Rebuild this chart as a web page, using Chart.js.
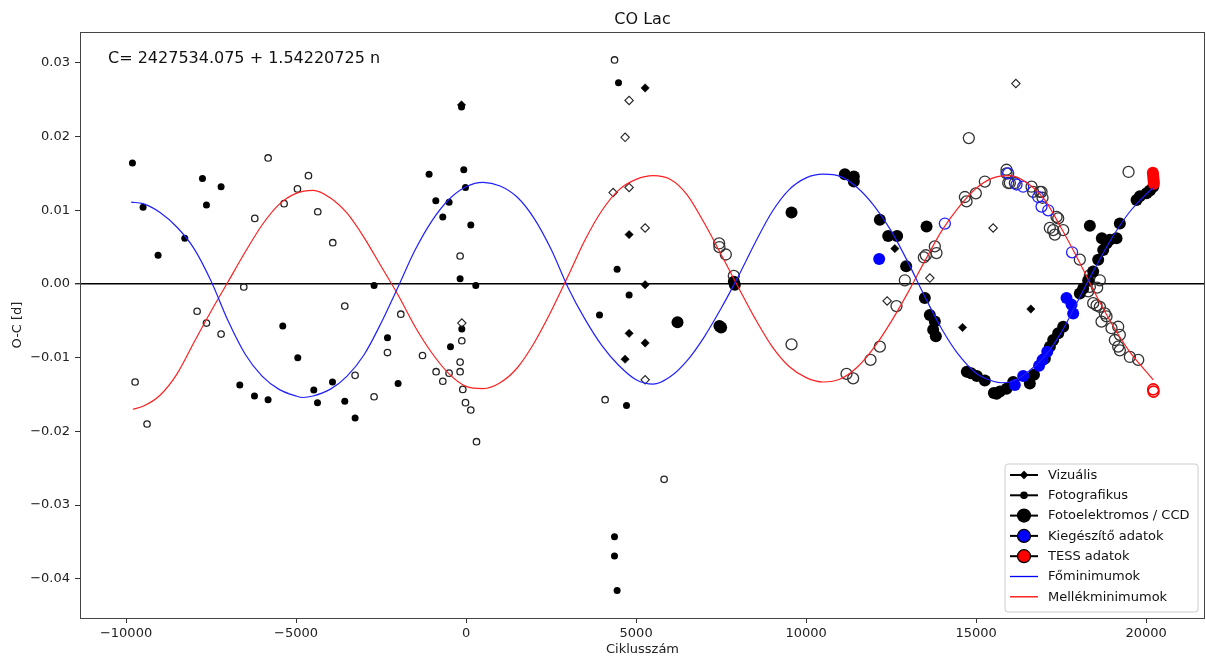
<!DOCTYPE html>
<html>
<head>
<meta charset="utf-8">
<title>CO Lac O-C</title>
<script src="https://cdn.jsdelivr.net/npm/chart.js@4.4.0/dist/chart.umd.min.js"></script>
<style>
  html, body { margin: 0; padding: 0; background: #fff; }
  canvas { display: block; }
</style>
</head>
<body>
<canvas id="oc" width="1206" height="659"></canvas>
<script>
// [ciklusszám, O-C (nap)] párok

// Vizuális – fő- és mellékminimumok
const vizualisFo = [
  [-135, 0.0243], [4676, -0.0102], [4794, 0.0067], [4794, -0.0067], [5265, 0.0266],
  [5265, -0.0001], [5265, -0.0080], [12608, 0.0048], [14599, -0.0059], [16608, -0.0034]
];
const vizualisMellek = [
  [-126, -0.0053], [4323, 0.0124], [4676, 0.0199], [4794, 0.0249], [4794, 0.0131],
  [5265, 0.0076], [5265, -0.0130], [12382, -0.0023], [13637, 0.0008], [15499, 0.0076],
  [16167, 0.0272]
];

// Fotografikus
const fotoFo = [
  [-9812, 0.0164], [-9499, 0.0104], [-9058, 0.0039], [-8273, 0.0062], [-7753, 0.0143],
  [-7635, 0.0107], [-7205, 0.0132], [-6655, -0.0137], [-6223, -0.0152], [-5823, -0.0157],
  [-5391, -0.0057], [-4950, -0.0100], [-4479, -0.0144], [-4370, -0.0161], [-3929, -0.0133],
  [-3568, -0.0159], [-3264, -0.0182], [-2706, -0.0002], [-2312, -0.0073], [-2000, -0.0135],
  [-1088, 0.0149], [-891, 0.0113], [-685, 0.0091], [-500, 0.0111], [-459, -0.0085],
  [-176, 0.0007], [-135, 0.0240], [-126, -0.0061], [-68, 0.0155], [-18, 0.0131],
  [138, 0.0080], [285, -0.0002], [3923, -0.0042], [4364, -0.0343], [4364, -0.0369],
  [4441, -0.0416], [4441, 0.0020], [4482, 0.0273], [4717, -0.0165], [4794, -0.0015]
];
const fotoMellek = [
  [-9734, -0.0133], [-9382, -0.0190], [-7910, -0.0037], [-7635, -0.0053], [-7205, -0.0068],
  [-6538, -0.0004], [-6214, 0.0089], [-5822, 0.0171], [-5352, 0.0109], [-4959, 0.0129],
  [-4636, 0.0147], [-4362, 0.0098], [-3921, 0.0056], [-3568, -0.0030], [-3264, -0.0124],
  [-2706, -0.0153], [-2312, -0.0093], [-1920, -0.0041], [-1282, -0.0097], [-882, -0.0119],
  [-685, -0.0132], [-500, -0.0121], [-176, 0.0038], [-126, -0.0077], [-176, -0.0106],
  [-176, -0.0119], [-97, -0.0143], [-18, -0.0161], [138, -0.0171], [306, -0.0214],
  [4088, -0.0157], [4365, 0.0304], [5823, -0.0265]
];

// Fotoelektromos / CCD
const ccdFo = [
  [6217, -0.0052], [7450, -0.0057], [7500, -0.0059], [7873, 0.0003], [7903, -0.0001],
  [9570, 0.0097], [11138, 0.0149], [11403, 0.0146], [11403, 0.0139], [12167, 0.0087],
  [12412, 0.0065], [12676, 0.0065], [12941, 0.0024], [13490, -0.0019], [13541, 0.0078],
  [13637, -0.0042], [13735, -0.0062], [13784, -0.0051], [13814, -0.0071], [14725, -0.0119],
  [14850, -0.0121], [15020, -0.0125], [15255, -0.0131], [15520, -0.0148], [15600, -0.0149],
  [15696, -0.0146], [15892, -0.0142], [16088, -0.0133], [16578, -0.0135], [16700, -0.0123],
  [17020, -0.0101], [17167, -0.0085], [17265, -0.0076], [17412, -0.0067], [17559, -0.0058],
  [18048, -0.0013], [18147, -0.0006], [18294, 0.0005], [18441, 0.0017], [18588, 0.0033],
  [18695, 0.0062], [18735, 0.0046], [18833, 0.0055], [18931, 0.0060], [19127, 0.0062],
  [18343, 0.0079], [19225, 0.0082], [19716, 0.0114], [19814, 0.0119], [20010, 0.0123],
  [20110, 0.0127], [20206, 0.0132]
];
const ccdMellek = [
  [7441, 0.0055], [7450, 0.0050], [7638, 0.0040], [7873, 0.0011], [9570, -0.0082],
  [11187, -0.0122], [11382, -0.0128], [11893, -0.0103], [12167, -0.0085], [12657, -0.0030],
  [12902, 0.0005], [13461, 0.0036], [13520, 0.0039], [13784, 0.0051], [13833, 0.0042],
  [14668, 0.0118], [14717, 0.0112], [14784, 0.0198], [14990, 0.0123], [15255, 0.0139],
  [15892, 0.0155], [15892, 0.0150], [15941, 0.0137], [15990, 0.0137], [16137, 0.0137],
  [16628, 0.0132], [16675, 0.0125], [16872, 0.0125], [16922, 0.0125], [16951, 0.0117],
  [17166, 0.0076], [17265, 0.0073], [17314, 0.0067], [17363, 0.0091], [17412, 0.0089],
  [17559, 0.0073], [18048, 0.0033], [18294, -0.0010], [18343, 0.0012], [18343, -0.0004],
  [18441, -0.0026], [18541, -0.0029], [18558, -0.0005], [18637, 0.0005], [18637, -0.0031],
  [18686, -0.0051], [18784, -0.0040], [18833, -0.0044], [18980, -0.0060], [19078, -0.0076],
  [19176, -0.0058], [19176, -0.0085], [19225, -0.0069], [19225, -0.0090], [19481, 0.0152],
  [19520, -0.0099], [19765, -0.0103]
];

// Kiegészítő adatok
const kiegFo = [
  [12147, 0.0034], [16137, -0.0137], [16382, -0.0125], [16850, -0.0111], [16950, -0.0103],
  [17090, -0.0092], [17657, -0.0019], [17804, -0.0028], [17853, -0.0040]
];
const kiegMellek = [
  [14079, 0.0082], [15941, 0.0150], [16187, 0.0135], [16382, 0.0132], [16823, 0.0118],
  [16922, 0.0105], [17118, 0.0100], [17820, 0.0043]
];

// TESS
const tessFo = [
  [20195, 0.0151], [20205, 0.0148], [20210, 0.0145], [20215, 0.0142], [20220, 0.0139],
  [20225, 0.0136]
];
const tessMellek = [[20206, -0.0143], [20215, -0.0146]];

// illesztett görbék
const foMinGorbe = [
  [-9850, 0.0111], [-9500, 0.0109], [-9000, 0.0097], [-8500, 0.0077], [-8000, 0.0048],
  [-7500, 0.0004], [-7000, -0.0050], [-6500, -0.0095], [-6000, -0.0125], [-5500, -0.0143],
  [-5000, -0.0152], [-4800, -0.0154], [-4500, -0.0152], [-4000, -0.0143], [-3500, -0.0125],
  [-3000, -0.0096], [-2500, -0.0053], [-2000, -0.0004], [-1500, 0.0046], [-1000, 0.0086],
  [-500, 0.0115], [0, 0.0132], [500, 0.0138], [1000, 0.0133], [1500, 0.0118],
  [2000, 0.0089], [2500, 0.0047], [3000, -0.0005], [3500, -0.0048], [4000, -0.0084],
  [4500, -0.0111], [5000, -0.0130], [5500, -0.0136], [6000, -0.0126], [6500, -0.0104],
  [7000, -0.0072], [7500, -0.0033], [8000, 0.0010], [8500, 0.0056], [9000, 0.0098],
  [9500, 0.0128], [10000, 0.0144], [10500, 0.0149], [11000, 0.0146], [11500, 0.0131],
  [12000, 0.0106], [12500, 0.0072], [13000, 0.0029], [13500, -0.0018], [14000, -0.0062],
  [14500, -0.0097], [15000, -0.0121], [15500, -0.0132], [15750, -0.0134], [16000, -0.0133],
  [16500, -0.0120], [17000, -0.0099], [17500, -0.0066], [18000, -0.0022], [18500, 0.0022],
  [19000, 0.0063], [19500, 0.0097], [20000, 0.0122], [20225, 0.0131]
];
const mellekMinGorbe = [
  [-9800, -0.0170], [-9500, -0.0166], [-9000, -0.0151], [-8500, -0.0122], [-8000, -0.0079],
  [-7500, -0.0037], [-7000, 0.0003], [-6500, 0.0043], [-6000, 0.0080], [-5500, 0.0108],
  [-5000, 0.0123], [-4500, 0.0127], [-4000, 0.0117], [-3500, 0.0096], [-3000, 0.0063],
  [-2500, 0.0024], [-2000, -0.0015], [-1500, -0.0058], [-1000, -0.0094], [-500, -0.0122],
  [0, -0.0139], [500, -0.0142], [1000, -0.0134], [1500, -0.0114], [2000, -0.0080],
  [2500, -0.0037], [3000, 0.0011], [3500, 0.0060], [4000, 0.0100], [4500, 0.0128],
  [5000, 0.0142], [5500, 0.0147], [6000, 0.0142], [6500, 0.0121], [7000, 0.0083],
  [7500, 0.0040], [8000, -0.0004], [8500, -0.0047], [9000, -0.0085], [9500, -0.0112],
  [10000, -0.0127], [10500, -0.0133], [11000, -0.0129], [11500, -0.0113], [12000, -0.0086],
  [12500, -0.0051], [13000, -0.0011], [13500, 0.0032], [14000, 0.0073], [14500, 0.0105],
  [15000, 0.0130], [15500, 0.0144], [16000, 0.0147], [16500, 0.0137], [17000, 0.0115],
  [17500, 0.0076], [18000, 0.0033], [18500, -0.0013], [19000, -0.0055], [19500, -0.0091],
  [20000, -0.0119], [20206, -0.0130]
];

// tengelyek
const xTicks = [-10000, -5000, 0, 5000, 10000, 15000, 20000];
const xTickLabels = ['\u221210000', '\u22125000', '0', '5000', '10000', '15000', '20000'];
const yTicks = [-0.04, -0.03, -0.02, -0.01, 0, 0.01, 0.02, 0.03];
const yTickLabels = ['\u22120.04', '\u22120.03', '\u22120.02', '\u22120.01', '0.00', '0.01', '0.02', '0.03'];

const legendLabels = ['Vizuális', 'Fotografikus', 'Fotoelektromos / CCD', 'Kiegészítő adatok',
  'TESS adatok', 'Főminimumok', 'Mellékminimumok'];

const FONT = '"DejaVu Sans", sans-serif';
const EDGE = '#222';
const NONE = 'rgba(0,0,0,0)';

const toXY = arr => arr.map(([x, y]) => ({ x, y }));

function pointSet(label, data, shape, radius, fill, edge, bw, order) {
  return {
    type: 'scatter', label, data: toXY(data), showLine: false, order,
    pointStyle: shape, pointRadius: radius, pointHoverRadius: radius,
    backgroundColor: fill, borderColor: edge, borderWidth: bw,
    pointBackgroundColor: fill, pointBorderColor: edge, pointBorderWidth: bw
  };
}

function curveSet(label, data, color) {
  return {
    type: 'line', label, data: toXY(data), order: 0,
    borderColor: color, borderWidth: 1.2, pointRadius: 0, fill: false,
    cubicInterpolationMode: 'monotone'
  };
}

// keret, cím, képlet és jelmagyarázat
const decorations = {
  id: 'decorations',
  afterDraw(chart) {
    const { ctx, chartArea: a } = chart;
    ctx.save();
    ctx.strokeStyle = '#444';
    ctx.lineWidth = 1;
    ctx.strokeRect(Math.round(a.left) + 0.5, Math.round(a.top) + 0.5,
      Math.round(a.right - a.left) - 1, Math.round(a.bottom - a.top));

    ctx.fillStyle = '#111';
    ctx.textAlign = 'center';
    ctx.textBaseline = 'alphabetic';
    ctx.font = '16px ' + FONT;
    ctx.fillText('CO Lac', (a.left + a.right) / 2, 23.5);

    ctx.textAlign = 'left';
    ctx.font = '16px ' + FONT;
    ctx.fillText('C= 2427534.075 + 1.54220725 n', a.left + 28, 62.5);

    // jelmagyarázat doboz a jobb alsó sarokban
    const bw = 193, bh = 148, r = 3;
    const bx = a.right - 7 - bw, by = a.bottom - 6 - bh;
    ctx.beginPath();
    ctx.moveTo(bx + r, by);
    ctx.arcTo(bx + bw, by, bx + bw, by + bh, r);
    ctx.arcTo(bx + bw, by + bh, bx, by + bh, r);
    ctx.arcTo(bx, by + bh, bx, by, r);
    ctx.arcTo(bx, by, bx + bw, by, r);
    ctx.closePath();
    ctx.fillStyle = 'rgba(255,255,255,0.85)';
    ctx.fill();
    ctx.strokeStyle = '#cccccc';
    ctx.stroke();

    const icons = [
      { line: '#000', lw: 2, shape: 'diamond', r: 3.5, fill: '#000' },
      { line: '#000', lw: 2, shape: 'circle', r: 3.2, fill: '#000' },
      { line: '#000', lw: 2, shape: 'circle', r: 6.5, fill: '#000' },
      { line: '#000', lw: 2, shape: 'circle', r: 6.5, fill: '#0000ff' },
      { line: '#000', lw: 2, shape: 'circle', r: 6.5, fill: '#ff0000' },
      { line: '#0000ff', lw: 1.3 },
      { line: '#ff0000', lw: 1.3 }
    ];
    ctx.font = '13px ' + FONT;
    ctx.textBaseline = 'middle';
    legendLabels.forEach((label, i) => {
      const cy = by + 11 + i * 20.3;
      const ic = icons[i];
      const mx = bx + 19;
      ctx.strokeStyle = ic.line;
      ctx.lineWidth = ic.lw;
      ctx.beginPath();
      ctx.moveTo(bx + 5, cy);
      ctx.lineTo(bx + 33, cy);
      ctx.stroke();
      if (ic.shape) {
        ctx.beginPath();
        if (ic.shape === 'circle') {
          ctx.arc(mx, cy, ic.r, 0, Math.PI * 2);
        } else {
          ctx.moveTo(mx, cy - ic.r);
          ctx.lineTo(mx + ic.r, cy);
          ctx.lineTo(mx, cy + ic.r);
          ctx.lineTo(mx - ic.r, cy);
          ctx.closePath();
        }
        ctx.fillStyle = ic.fill;
        ctx.fill();
        ctx.strokeStyle = '#000';
        ctx.lineWidth = 1.2;
        ctx.stroke();
      }
      ctx.fillStyle = '#111';
      ctx.fillText(label, bx + 43, cy + 0.5);
    });
    ctx.restore();
  }
};

new Chart(document.getElementById('oc').getContext('2d'), {
  type: 'scatter',
  data: {
    datasets: [
      curveSet(legendLabels[5], foMinGorbe, '#1f1fff'),
      curveSet(legendLabels[6], mellekMinGorbe, '#ff2020'),
      pointSet('TESS adatok', tessFo, 'circle', 6, '#ff0000', '#ff0000', 0, 1),
      pointSet('TESS mellék', tessMellek, 'circle', 5.5, NONE, '#ff0000', 1.6, 1),
      pointSet('Kiegészítő adatok', kiegFo, 'circle', 6, '#0000ff', '#0000ff', 0, 2),
      pointSet('Kiegészítő mellék', kiegMellek, 'circle', 5.5, NONE, '#2020ff', 1.3, 2),
      pointSet('Vizuális', vizualisFo, 'rectRot', 4.2, '#000', '#000', 0.5, 3),
      pointSet('Vizuális mellék', vizualisMellek, 'rectRot', 4.2, NONE, EDGE, 1.1, 3),
      pointSet('Fotoelektromos / CCD', ccdFo, 'circle', 6, '#000', '#000', 0, 4),
      pointSet('CCD mellék', ccdMellek, 'circle', 5.5, NONE, '#333', 1.3, 4),
      pointSet('Fotografikus', fotoFo, 'circle', 3.5, '#000', '#000', 0, 5),
      pointSet('Fotografikus mellék', fotoMellek, 'circle', 3.2, NONE, EDGE, 1.3, 5)
    ]
  },
  options: {
    responsive: false,
    devicePixelRatio: 1,
    animation: false,
    events: [],
    layout: { autoPadding: false, padding: { top: 32, right: 1, left: 0, bottom: 0 } },
    plugins: {
      legend: { display: false },
      title: { display: false },
      tooltip: { enabled: false }
    },
    scales: {
      x: {
        type: 'linear',
        min: -11354,
        max: 21729,
        afterFit(scale) {
          scale.height = 41;
          scale.paddingLeft = 0;
          scale.paddingRight = 0;
        },
        afterBuildTicks(scale) { scale.ticks = xTicks.map(v => ({ value: v })); },
        ticks: {
          autoSkip: false,
          maxRotation: 0,
          padding: 3,
          color: '#222',
          font: { family: FONT, size: 13 },
          callback: v => xTickLabels[xTicks.indexOf(v)]
        },
        grid: { color: NONE, tickColor: '#333', tickLength: 5, drawTicks: true },
        border: { display: false },
        title: {
          display: true, text: 'Ciklusszám', color: '#222',
          font: { family: FONT, size: 13 }, padding: { top: 0, bottom: 2 }
        }
      },
      y: {
        type: 'linear',
        min: -0.04532,
        max: 0.03419,
        afterFit(scale) {
          scale.width = 80;
          scale.paddingTop = 0;
          scale.paddingBottom = 0;
        },
        afterBuildTicks(scale) { scale.ticks = yTicks.map(v => ({ value: v })); },
        ticks: {
          autoSkip: false,
          padding: 5,
          color: '#222',
          font: { family: FONT, size: 13 },
          callback: v => yTickLabels[yTicks.indexOf(v)]
        },
        grid: {
          color: c => (c.tick && c.tick.value === 0 ? '#000' : NONE),
          lineWidth: c => (c.tick && c.tick.value === 0 ? 1.4 : 1),
          tickColor: '#333',
          tickLength: 5,
          drawTicks: true
        },
        border: { display: false },
        title: {
          display: true, text: 'O-C [d]', color: '#222',
          font: { family: FONT, size: 13 }, padding: { top: 10, bottom: 0 }
        }
      }
    }
  },
  plugins: [decorations]
});
</script>
</body>
</html>
